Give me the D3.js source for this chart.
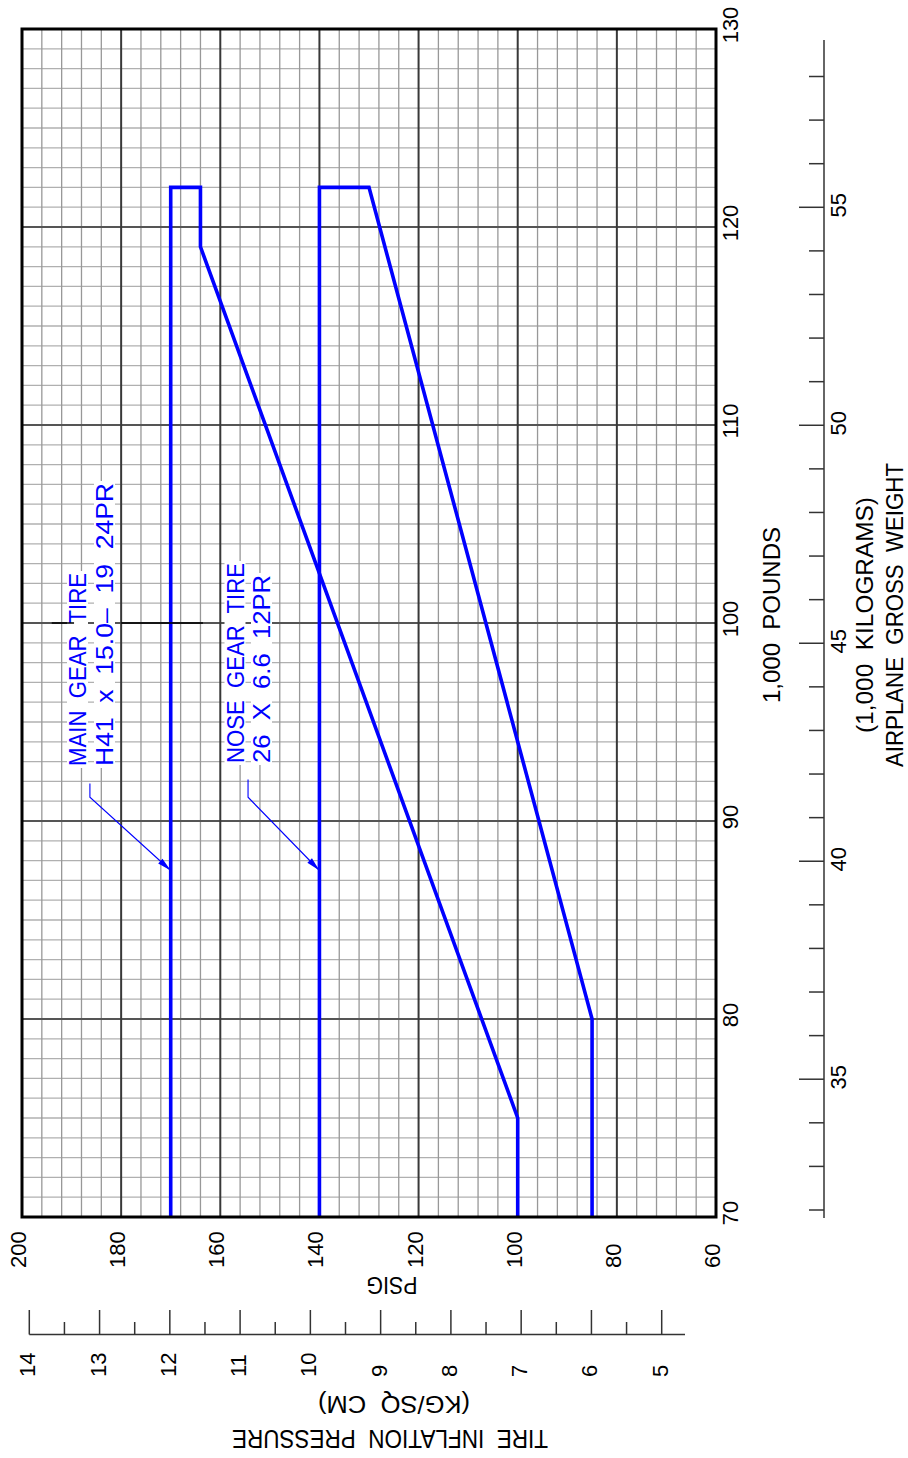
<!DOCTYPE html>
<html><head><meta charset="utf-8">
<script src="https://cdn.jsdelivr.net/npm/d3@7"></script>
<style>
body{margin:0;background:#fff}
text{font-family:"Liberation Sans",Arial,sans-serif}
</style>
</head><body>
<svg id="c" width="908" height="1458"></svg>
<script>
// ---------- data ----------
const psigTicks = [200,180,160,140,120,100,80,60];
const poundTicks = [130,120,110,100,90,80,70];
const kgcmTicks = [14,13,12,11,10,9,8,7,6,5];
const kgcmMinor = [13.5,12.5,11.5,10.5,9.5,8.5,7.5,6.5,5.5];
const kgWeightTicks = [55,50,45,40,35];
const kgWeightMinor = [58,57,56,54,53,52,51,49,48,47,46,44,43,42,41,39,38,37,36,34,33,32];
// main gear tire curve (psig, 1000 lb)
const mainGearPsig   = [100,100,164,164,170,170];
const mainGearWeight = [70, 75, 119,122,122,70];
// nose gear tire curve
const noseGearPsig   = [85, 85, 130,140,140];
const noseGearWeight = [70, 80, 122,122,70];
// annotation labels
const mainLabel = ["MAIN  GEAR  TIRE","H41  x  15.0–  19  24PR"];
const noseLabel = ["NOSE  GEAR  TIRE","26  X  6.6  12PR"];
// leader lines (psig, 1000 lb): start, knee, tip
const mainLeaderPsig = [186.3,186.3,170];
const mainLeaderWeight = [91.9,91.2,87.5];
const noseLeaderPsig = [154.4,154.4,140];
const noseLeaderWeight = [92.1,91.2,87.5];
// stray reference line segments at 100,000 lb (psig from/to)
const refLineSegments = [[194,189.5],[180,163.5]];
const refLineWeight = 100;

// ---------- scales ----------
const svg = d3.select("#c");
const x = d3.scaleLinear().domain([200,60]).range([22,716]);
const y = d3.scaleLinear().domain([70,130]).range([1217,29]);
const kgc = d3.scaleLinear().domain([14,5]).range([29.3,661.7]);
const kgw = d3.scaleLinear().domain([32,58]).range([1210,76.5]);

const BLUE = "#0000ff";

// ---------- grid ----------
const g = svg.append("g");
const vLines = d3.range(60,201,4);
const hLines = d3.range(70,131,1);
g.selectAll(".hmin").data(hLines.filter(d=>d%10!==0)).join("line")
  .attr("x1",x(200)).attr("x2",x(60)).attr("y1",d=>y(d)).attr("y2",d=>y(d))
  .attr("stroke","#b0b0b0").attr("stroke-width",1.3);
g.selectAll(".vmin").data(vLines.filter(d=>(200-d)%20!==0)).join("line")
  .attr("y1",y(70)).attr("y2",y(130)).attr("x1",d=>x(d)).attr("x2",d=>x(d))
  .attr("stroke","#989898").attr("stroke-width",1.3);
g.selectAll(".hmaj").data(hLines.filter(d=>d%10===0)).join("line")
  .attr("x1",x(200)).attr("x2",x(60)).attr("y1",d=>y(d)).attr("y2",d=>y(d))
  .attr("stroke","#555").attr("stroke-width",2);
g.selectAll(".vmaj").data(vLines.filter(d=>(200-d)%20===0)).join("line")
  .attr("y1",y(70)).attr("y2",y(130)).attr("x1",d=>x(d)).attr("x2",d=>x(d))
  .attr("stroke","#383838").attr("stroke-width",2);

// ---------- annotation text with white boxes ----------
function label(lines, baselines, startY, lens){
  lines.forEach((t,i)=>{
    const grp = svg.append("g").attr("transform",`translate(${baselines[i]},${startY}) rotate(-90)`);
    grp.append("rect").attr("x",-2).attr("y",-19).attr("width",lens[i]+4).attr("height",21).attr("fill","#fff");
    grp.append("text").attr("x",0).attr("y",0)
      .attr("font-size",23).attr("fill",BLUE).style("white-space","pre")
      .attr("textLength",lens[i]).attr("lengthAdjust","spacingAndGlyphs").text(t);
  });
}

// ---------- curves ----------
const line = d3.line().x(d=>x(d[0])).y(d=>y(d[1]));
svg.append("path").datum(mainGearPsig.map((p,i)=>[p,mainGearWeight[i]]))
  .attr("d",line).attr("fill","none").attr("stroke",BLUE).attr("stroke-width",3.6).attr("stroke-linejoin","miter");
svg.append("path").datum(noseGearPsig.map((p,i)=>[p,noseGearWeight[i]]))
  .attr("d",line).attr("fill","none").attr("stroke",BLUE).attr("stroke-width",3.6).attr("stroke-linejoin","miter");

// border
svg.append("rect").attr("x",x(200)).attr("y",y(130)).attr("width",x(60)-x(200)).attr("height",y(70)-y(130))
  .attr("fill","none").attr("stroke","#000").attr("stroke-width",3);

label(mainLabel,[86,113],766,[193,283]);
label(noseLabel,[243.5,270],763,[200,188]);

// stray black line (drawn in segments)
svg.selectAll(".ref").data(refLineSegments).join("line")
  .attr("x1",d=>x(d[0])).attr("x2",d=>x(d[1]))
  .attr("y1",y(refLineWeight)).attr("y2",y(refLineWeight))
  .attr("stroke","#000").attr("stroke-width",1.5);

// leaders
function leader(ps,ws){
  const pts = ps.map((p,i)=>[x(p),y(ws[i])]);
  svg.append("polyline").attr("points",pts.map(p=>p.join(",")).join(" "))
    .attr("fill","none").attr("stroke",BLUE).attr("stroke-width",1.1);
  const [a,b] = [pts[1],pts[2]];
  const ang = Math.atan2(b[1]-a[1],b[0]-a[0]);
  const L=14,W=3.2;
  const bx=b[0]-L*Math.cos(ang), by=b[1]-L*Math.sin(ang);
  const p1=[bx+W*Math.sin(ang),by-W*Math.cos(ang)], p2=[bx-W*Math.sin(ang),by+W*Math.cos(ang)];
  svg.append("path").attr("d",`M${b[0]},${b[1]}L${p1[0]},${p1[1]}L${p2[0]},${p2[1]}Z`).attr("fill",BLUE);
}
leader(mainLeaderPsig,mainLeaderWeight);
leader(noseLeaderPsig,noseLeaderWeight);

// ---------- axis labels ----------
const FS = 22;
svg.selectAll(".pl").data(poundTicks).join("text")
  .attr("transform",d=>`translate(738,${y(d)-4}) rotate(-90)`)
  .attr("text-anchor","middle").attr("font-size",FS).text(d=>d);
svg.selectAll(".ps").data(psigTicks).join("text")
  .attr("transform",d=>`translate(${x(d)+4},1268) rotate(-90)`)
  .attr("text-anchor","start").attr("font-size",FS).text(d=>d);

// kg/sq cm axis
const ka = svg.append("g").attr("stroke","#333").attr("stroke-width",1.5);
ka.append("line").attr("x1",kgc(14)).attr("x2",685).attr("y1",1334.5).attr("y2",1334.5);
ka.selectAll(".km").data(kgcmTicks).join("line")
  .attr("x1",d=>kgc(d)).attr("x2",d=>kgc(d)).attr("y1",1310).attr("y2",1334.5);
ka.selectAll(".kn").data(kgcmMinor).join("line")
  .attr("x1",d=>kgc(d)).attr("x2",d=>kgc(d)).attr("y1",1322).attr("y2",1334.5);
svg.selectAll(".kl").data(kgcmTicks).join("text")
  .attr("transform",d=>`translate(${kgc(d)+6},1377) rotate(-90)`)
  .attr("text-anchor","start").attr("font-size",FS).text(d=>d);

// kg weight axis (right)
const wa = svg.append("g").attr("stroke","#333").attr("stroke-width",1.5);
wa.append("line").attr("x1",824).attr("x2",824).attr("y1",40).attr("y2",1218);
wa.selectAll(".wm").data(kgWeightTicks).join("line")
  .attr("x1",799).attr("x2",824).attr("y1",d=>kgw(d)).attr("y2",d=>kgw(d));
wa.selectAll(".wn").data(kgWeightMinor).join("line")
  .attr("x1",809).attr("x2",824).attr("y1",d=>kgw(d)).attr("y2",d=>kgw(d));
svg.selectAll(".wl").data(kgWeightTicks).join("text")
  .attr("transform",d=>`translate(846,${kgw(d)-2}) rotate(-90)`)
  .attr("text-anchor","middle").attr("font-size",FS).text(d=>d);

// ---------- titles ----------
function title(t,tx,ty,rot,len,fs){
  svg.append("text").attr("transform",`translate(${tx},${ty}) rotate(${rot})`)
    .attr("text-anchor","middle").attr("font-size",fs).style("white-space","pre")
    .attr("textLength",len).attr("lengthAdjust","spacingAndGlyphs").text(t);
}
title("1,000  POUNDS",780,615,-90,176,23);
title("(1,000  KILOGRAMS)",873,615,-90,236,24);
title("AIRPLANE  GROSS  WEIGHT",903,615,-90,304,24);
title("PSIG",392,1277,180,51,24);
title("(KG/SQ  CM)",394,1396,180,152,23);
title("TIRE  INFLATION  PRESSURE",390,1430,180,316,25);
</script>
</body></html>
